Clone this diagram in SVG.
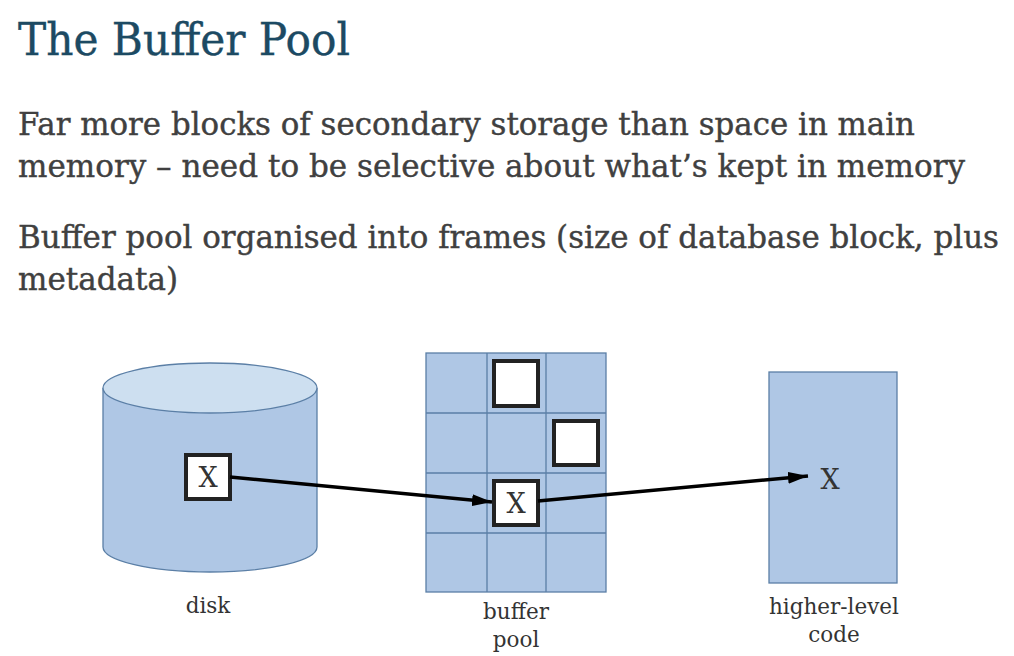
<svg xmlns="http://www.w3.org/2000/svg" width="1014" height="656" viewBox="0 0 1014 656">
<defs>
<style>
.title{font-family:"DejaVu Serif","Liberation Serif",serif;font-size:45px;fill:#1c4a63;stroke:#1c4a63;stroke-width:0.4}
.body{font-family:"DejaVu Serif","Liberation Serif",serif;font-size:31px;fill:#404040;stroke:#404040;stroke-width:0.4}
.lbl{font-family:"DejaVu Serif","Liberation Serif",serif;font-size:21.5px;fill:#333;text-anchor:middle}
.x{font-family:"DejaVu Serif","Liberation Serif",serif;font-size:27px;fill:#333;text-anchor:middle}
.blue{fill:#afc7e5;stroke:#5b7fa6;stroke-width:1.3}
.box{fill:#fff;stroke:#222;stroke-width:4}
.conn{stroke:#000;stroke-width:3.5;fill:none}
</style>
<marker id="ah" viewBox="0 0 20 12" refX="20" refY="6" markerWidth="20" markerHeight="12" markerUnits="userSpaceOnUse" orient="auto">
<path d="M0,0 L20,6 L0,12 z" fill="#000"/>
</marker>
</defs>
<rect width="1014" height="656" fill="#fff"/>
<text class="title" x="18" y="55" textLength="332" lengthAdjust="spacingAndGlyphs">The Buffer Pool</text>
<text class="body" x="18" y="135" textLength="897" lengthAdjust="spacingAndGlyphs">Far more blocks of secondary storage than space in main</text>
<text class="body" x="18" y="177" textLength="947" lengthAdjust="spacingAndGlyphs">memory – need to be selective about what’s kept in memory</text>
<text class="body" x="18" y="248" textLength="981" lengthAdjust="spacingAndGlyphs">Buffer pool organised into frames (size of database block, plus</text>
<text class="body" x="18" y="290" textLength="160" lengthAdjust="spacingAndGlyphs">metadata)</text>

<g id="disk">
<path class="blue" d="M103,388 L103,547 A107,25 0 0 0 317,547 L317,388"/>
<ellipse cx="210" cy="388" rx="107" ry="25" fill="#cddff0" stroke="#5b7fa6" stroke-width="1.3"/>
<rect class="box" x="186" y="455" width="44" height="44"/>
<text class="x" x="208" y="487">X</text>
<text class="lbl" x="208" y="613">disk</text>
</g>

<g id="buffer-pool">
<rect class="blue" x="426" y="353" width="180" height="239"/>
<path d="M487,353 V592 M546,353 V592 M426,413 H606 M426,473 H606 M426,533 H606" stroke="#5b7fa6" stroke-width="1.3" fill="none"/>
<rect class="box" x="494" y="361" width="44" height="45"/>
<rect class="box" x="554" y="421" width="44" height="44"/>
<rect class="box" x="494" y="481" width="44" height="44"/>
<text class="x" x="516" y="513">X</text>
<text class="lbl" x="516" y="619">buffer</text>
<text class="lbl" x="516" y="647">pool</text>
</g>

<g id="higher-level-code">
<rect class="blue" x="769" y="372" width="128" height="211"/>
<text class="x" x="830" y="489">X</text>
<text class="lbl" x="834" y="614">higher-level</text>
<text class="lbl" x="834" y="642">code</text>
</g>

<g id="connectors">
<line class="conn" x1="230" y1="477" x2="492" y2="502" marker-end="url(#ah)"/>
<line class="conn" x1="538" y1="501" x2="808" y2="476" marker-end="url(#ah)"/>
</g>
</svg>
